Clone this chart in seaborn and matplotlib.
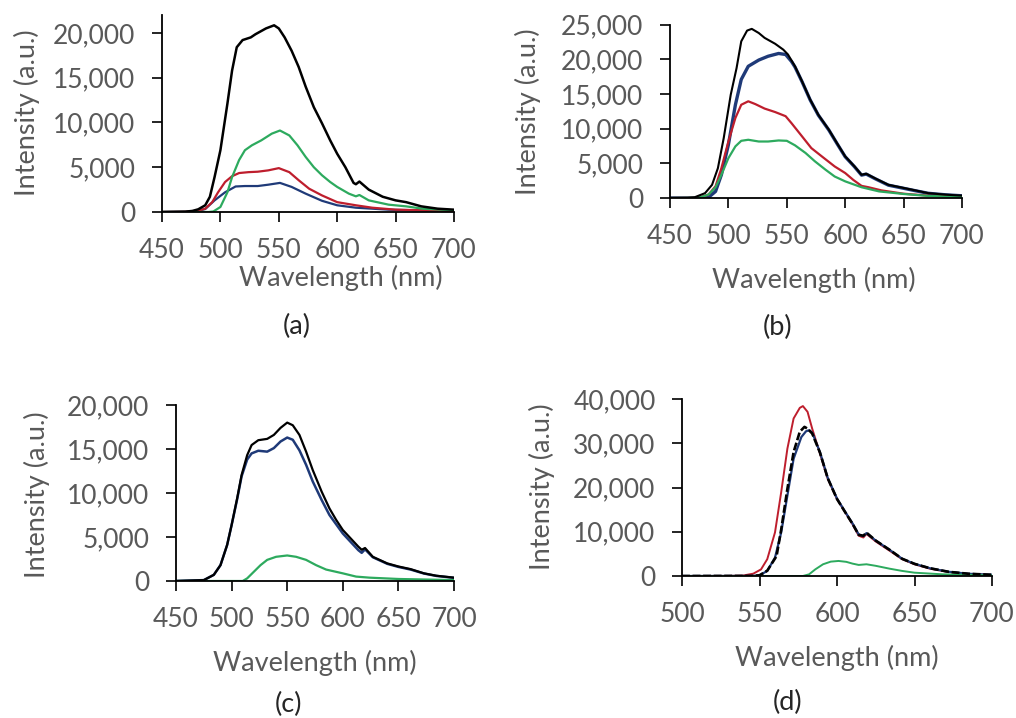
import matplotlib
matplotlib.use("Agg")
import matplotlib.pyplot as plt
import seaborn as sns
from matplotlib.ticker import FuncFormatter, MultipleLocator

# ---------------- data ----------------
# Panel (a)
a_black_wl = [450,470,476,481,487,491,495,500,506,510,514,519,526,530,539,546,550,555,561,567,
              573,580,587,594,600,607,614,616,619,627,639,650,659,672,686,700]
a_black = [0,40,120,300,750,1700,3900,6900,12100,15800,18400,19200,19500,19850,20500,20850,20500,19500,18000,16200,
           14000,11700,9900,8000,6500,5000,3250,3100,3400,2500,1700,1300,1100,630,370,260]
a_green_wl = [450,490,494,500,506,510,516,521,527,535,544,551,559,566,573,580,587,594,600,610,
              616,619,627,644,659,673,700]
a_green = [0,0,60,560,2200,3900,5800,6900,7450,8000,8750,9100,8550,7450,6150,5000,4100,3350,2800,2050,
           1750,1900,1300,820,630,370,190]
a_red_wl = [450,470,480,487,493,498,504,510,516,524,532,541,550,559,567,576,587,600,616,630,650,700]
a_red = [0,20,120,370,1100,2200,3350,4000,4350,4450,4500,4650,4900,4450,3550,2600,1850,1100,750,480,260,110]
a_blue_wl = [450,470,480,487,495,504,513,521,532,541,551,561,573,587,600,616,644,700]
a_blue = [0,20,100,330,1300,2200,2850,2900,2900,3050,3250,2800,2050,1250,750,480,260,110]

# Panel (b)
b_black_wl = [450,465,471,480,486,491,496,502,507,511,516,520,526,531,540,547,551,557,563,570,
              577,586,593,600,608,614,618,626,637,650,660,671,686,700]
b_black = [0,20,100,700,1900,4300,8650,14900,18750,22600,24150,24400,23800,23100,22250,21400,20700,19000,16850,14200,
           12000,9850,7900,6000,4550,3350,3500,2800,1900,1450,1100,700,480,340]
b_blue_wl = [450,475,483,489,494,500,506,511,517,526,534,543,549,554,557,563,570,577,586,593,
             600,608,614,618,626,637,650,660,671,686,700]
b_blue = [0,10,100,950,3350,7700,13450,17100,19000,19900,20450,20850,20700,19700,18900,16800,14150,11950,9800,7850,
          5950,4500,3300,3450,2750,1850,1400,1050,680,460,320]
b_red_wl = [450,470,477,483,489,494,500,506,511,517,523,531,540,549,554,563,571,580,591,600,
            607,614,620,631,650,671,700]
b_red = [0,30,150,500,1700,4300,8150,11550,13450,13950,13550,12900,12400,11800,10800,8900,7200,6000,4550,3600,
         2600,1750,1550,1100,620,340,200]
b_green_wl = [450,470,477,483,489,494,500,506,511,517,526,534,543,550,557,566,574,583,591,600,
              614,629,650,671,700]
b_green = [0,30,150,500,1550,3350,5750,7450,8250,8400,8150,8150,8300,8250,7600,6500,5300,4100,3100,2400,
           1550,950,580,300,150]

# Panel (c)
c_black_wl = [450,475,484,490,496,500,505,509,514,518,524,532,538,544,550,555,561,567,573,581,
              588,594,600,607,614,617,620,627,640,650,661,673,684,700]
c_black = [0,100,700,1800,4100,6350,9400,12050,14300,15450,16000,16150,16600,17400,18000,17700,16600,14700,12600,10150,
           8250,6950,5800,4850,3900,3550,3750,2750,2000,1650,1350,870,600,380]
c_blue_wl = [450,475,484,490,496,500,505,509,514,518,524,532,538,544,550,555,561,567,573,581,
             588,600,614,617,620,627,640,650,661,673,684,700]
c_blue = [0,100,700,1800,4100,6350,9300,11900,13800,14500,14800,14700,15100,15850,16300,16050,14850,13200,11300,9200,
          7500,5400,3500,3200,3600,2700,1950,1600,1300,850,580,360]
c_green_wl = [450,510,514,520,526,532,540,550,558,567,576,585,600,612,624,650,700]
c_green = [0,0,300,1050,1800,2400,2750,2900,2750,2400,1800,1300,870,500,380,230,100]

# Panel (d)
d_red_wl = [500,530,539,546,551,555,560,564,568,572,576,578,581,584,589,594,600,606,610,614,
            617,619,625,634,642,650,660,672,685,700]
d_red = [0,20,80,530,1500,3800,9850,18950,28800,35600,38000,38400,37100,33300,27700,22000,17400,14000,11700,9100,
         8700,9500,7800,5700,3800,2650,1650,900,450,230]
d_blue_wl = [500,545,550,555,560,564,568,572,577,580,582,584,589,594,600,606,610,614,617,619,
             625,634,642,650,660,672,685,700]
d_blue = [0,20,150,1150,4150,9850,18200,26500,31400,32700,32950,32400,28000,22200,17500,14100,11900,9400,9000,9700,
          8000,5900,3900,2750,1750,950,500,280]
d_black_wl = [500,545,550,555,561,564,568,572,576,579,581,584,589,594,600,606,610,614,617,619,
              625,634,642,650,660,672,685,700]
d_black = [0,20,150,1200,4500,10500,19700,28000,32600,33700,33300,32200,27900,22100,17400,14000,11800,9300,9100,9800,
           8000,5900,3900,2750,1750,950,500,280]
d_green_wl = [500,578,582,586,591,596,601,606,610,614,619,625,634,642,650,668,700]
d_green = [0,0,380,1500,2650,3250,3400,3200,2800,2500,2650,2300,1650,1150,750,380,150]

panel_labels = ["(a)", "(b)", "(c)", "(d)"]
x_title = "Wavelength (nm)"
y_title = "Intensity (a.u.)"

# ---------------- style ----------------
sns.set_theme(style="white")
plt.rcParams["font.family"] = ["Lato", "DejaVu Sans"]

BLACK = "#000000"
RED = "#BE1E2D"
BLUE = "#1F3A78"
GREEN = "#2DAA5E"
TXT = "#595959"
FS = 19.5
TFS = 19

W, H = 1016, 718
fig = plt.figure(figsize=(W / 100, H / 100), dpi=100)
fig.patch.set_facecolor("white")


def rect(l, t, r, b):
    return [l / W, 1 - b / H, (r - l) / W, (b - t) / H]


panels = [
    dict(box=(162, 15, 454, 212), xlim=(450, 700), ylim=(0, 22000),
         xlab=(341, 278), ylab=(27, 113), plab=(297, 326),
         series=[(a_blue_wl, a_blue, BLUE, "-", 1.6), (a_red_wl, a_red, RED, "-", 1.6),
                 (a_green_wl, a_green, GREEN, "-", 1.6), (a_black_wl, a_black, BLACK, "-", 1.8)]),
    dict(box=(670, 24.7, 962, 198), xlim=(450, 700), ylim=(0, 25000),
         xlab=(814, 280), ylab=(528, 112), plab=(778, 327),
         series=[(b_blue_wl, b_blue, BLUE, "-", 2.4), (b_red_wl, b_red, RED, "-", 1.6),
                 (b_green_wl, b_green, GREEN, "-", 1.6), (b_black_wl, b_black, BLACK, "-", 1.5)]),
    dict(box=(176, 405, 454, 581), xlim=(450, 700), ylim=(0, 20000),
         xlab=(315, 663), ylab=(37, 495), plab=(288, 704),
         series=[(c_blue_wl, c_blue, BLUE, "-", 1.8), (c_green_wl, c_green, GREEN, "-", 1.6),
                 (c_black_wl, c_black, BLACK, "-", 1.6)]),
    dict(box=(682, 399, 992, 576), xlim=(500, 700), ylim=(0, 40000),
         xlab=(837, 658), ylab=(542, 487), plab=(788, 702),
         series=[(d_red_wl, d_red, RED, "-", 1.4), (d_blue_wl, d_blue, BLUE, "-", 1.6),
                 (d_green_wl, d_green, GREEN, "-", 1.4), (d_black_wl, d_black, BLACK, (0, (3, 1)), 1.9)]),
]

fmt = FuncFormatter(lambda v, p: f"{int(round(v)):,}")

for i, p in enumerate(panels):
    l, t, r, b = p["box"]
    ax = fig.add_axes(rect(l, t, r, b))
    ax.set_facecolor("white")
    for wl, vals, col, ls, lw in p["series"]:
        sns.lineplot(x=wl, y=vals, color=col, linestyle=ls, linewidth=lw, ax=ax,
                     estimator=None, sort=False)
    ax.set_xlim(*p["xlim"])
    ax.set_ylim(*p["ylim"])
    ax.xaxis.set_major_locator(MultipleLocator(50))
    ax.yaxis.set_major_locator(MultipleLocator(10000 if p["ylim"][1] == 40000 else 5000))
    ax.yaxis.set_major_formatter(fmt)
    for s in ["top", "right"]:
        ax.spines[s].set_visible(False)
    for s in ["left", "bottom"]:
        ax.spines[s].set_color("black")
        ax.spines[s].set_linewidth(1.3)
    ax.tick_params(axis="both", which="major", direction="out", length=7, width=1.2,
                   color="black", labelsize=TFS, labelcolor=TXT, pad=12,
                   bottom=True, left=True)
    ax.set_xlabel(x_title, fontsize=FS, color=TXT)
    ax.set_ylabel(y_title, fontsize=FS, color=TXT)
    xl, yl = p["xlab"]
    ax.xaxis.label.set_va("center")
    ax.xaxis.set_label_coords((xl - l) / (r - l), (b - yl) / (b - t))
    xy, yy = p["ylab"]
    ax.yaxis.label.set_va("center")
    ax.yaxis.set_label_coords((xy - l) / (r - l), (b - yy) / (b - t))
    px, py = p["plab"]
    fig.text(px / W, 1 - py / H, panel_labels[i], fontsize=FS, color="#262626",
             ha="center", va="center")

fig.savefig("out.png", dpi=100, facecolor="white")
